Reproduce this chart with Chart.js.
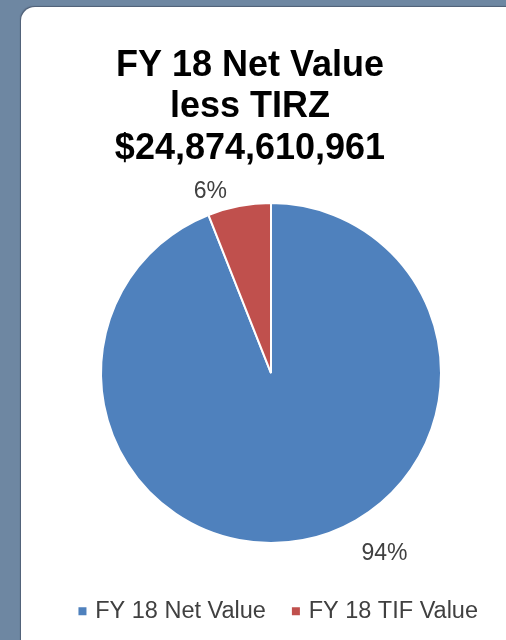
<!DOCTYPE html>
<html>
<head>
<meta charset="utf-8">
<script src="https://cdn.jsdelivr.net/npm/chart.js@4/dist/chart.umd.min.js"></script>
<style>
	html, body {
		margin: 0;
		width: 506px;
		height: 640px;
		overflow: hidden;
		background: #6e87a2;
	}
	.panel {
		position: absolute;
		left: 21px;
		top: 7px;
		width: 520px;
		height: 660px;
		background: #fff;
		border-top-left-radius: 14px;
		box-shadow: -1px -1px 1px rgba(60, 70, 90, 0.6);
	}
	#chart-fy18 {
		position: absolute;
		left: -7px;
		top: 0;
	}
</style>
</head>
<body>
<div class="panel"></div>
<canvas id="chart-fy18" width="514" height="640"></canvas>
<script>
// Chart data
const CATEGORIES = ["FY 18 Net Value", "FY 18 TIF Value"];
const SHARES = [94, 6];
const SLICE_COLORS = ["#4f81bd", "#c0504d"];
const TITLE_LINES = ["FY 18 Net Value", "less TIRZ", "$24,874,610,961"];

const FONT = "'Liberation Sans', Arial, sans-serif";

// Percent labels outside the slices (Excel "best fit" look)
const percentLabels = {
	id: "percentLabels",
	afterDatasetsDraw(chart, args, opts) {
		const { ctx } = chart;
		const values = chart.data.datasets[0].data;
		const total = values.reduce((a, b) => a + b, 0);
		const meta = chart.getDatasetMeta(0);
		ctx.save();
		ctx.font = `${opts.size}px ${FONT}`;
		ctx.fillStyle = opts.color;
		ctx.textAlign = "center";
		ctx.textBaseline = "middle";
		meta.data.forEach((arc, i) => {
			const { x, y, startAngle, endAngle, outerRadius } = arc.getProps(["x", "y", "startAngle", "endAngle", "outerRadius"], true);
			const nudge = opts.nudge[i];
			const angle = (startAngle + endAngle) / 2 + (nudge.angle * Math.PI) / 180;
			const r = outerRadius + nudge.dist;
			ctx.fillText(Math.round((values[i] / total) * 100) + "%", x + Math.cos(angle) * r, y + Math.sin(angle) * r);
		});
		ctx.restore();
	},
};

const CHART_CONFIG = {
	type: "pie",
	data: {
		labels: CATEGORIES,
		datasets: [
			{
				data: SHARES,
				backgroundColor: SLICE_COLORS,
				borderColor: "#ffffff",
				borderWidth: 2,
				radius: 170,
			},
		],
	},
	options: {
		responsive: false,
		animation: false,
		devicePixelRatio: 1,
		layout: {
			padding: { bottom: 7 },
		},
		plugins: {
			title: {
				display: true,
				text: TITLE_LINES,
				color: "#000",
				font: { family: FONT, size: 36, weight: "bold", lineHeight: 1.153 },
				padding: { top: 45, bottom: 6 },
			},
			// empty left box, keeps the pie right of the title centre
			subtitle: {
				display: true,
				position: "left",
				text: "",
				font: { size: 1, lineHeight: 1 },
				padding: { top: 41, bottom: 0 },
			},
			legend: {
				position: "bottom",
				align: "end",
				labels: {
					usePointStyle: true,
					pointStyle: "rect",
					boxWidth: 2,
					boxHeight: 10,
					padding: 29,
					color: "#404040",
					font: { family: FONT, size: 23.5 },
				},
			},
			tooltip: { enabled: false },
			percentLabels: {
				size: 23,
				color: "#404040",
				nudge: [
					{ angle: -21.4, dist: 43 },
					{ angle: -7.7, dist: 21 },
				],
			},
		},
	},
	plugins: [percentLabels],
};

const CHART_WRAPPER = document.getElementById("chart-fy18");
if (CHART_WRAPPER) {
	new Chart(CHART_WRAPPER, CHART_CONFIG);
}
</script>
</body>
</html>
